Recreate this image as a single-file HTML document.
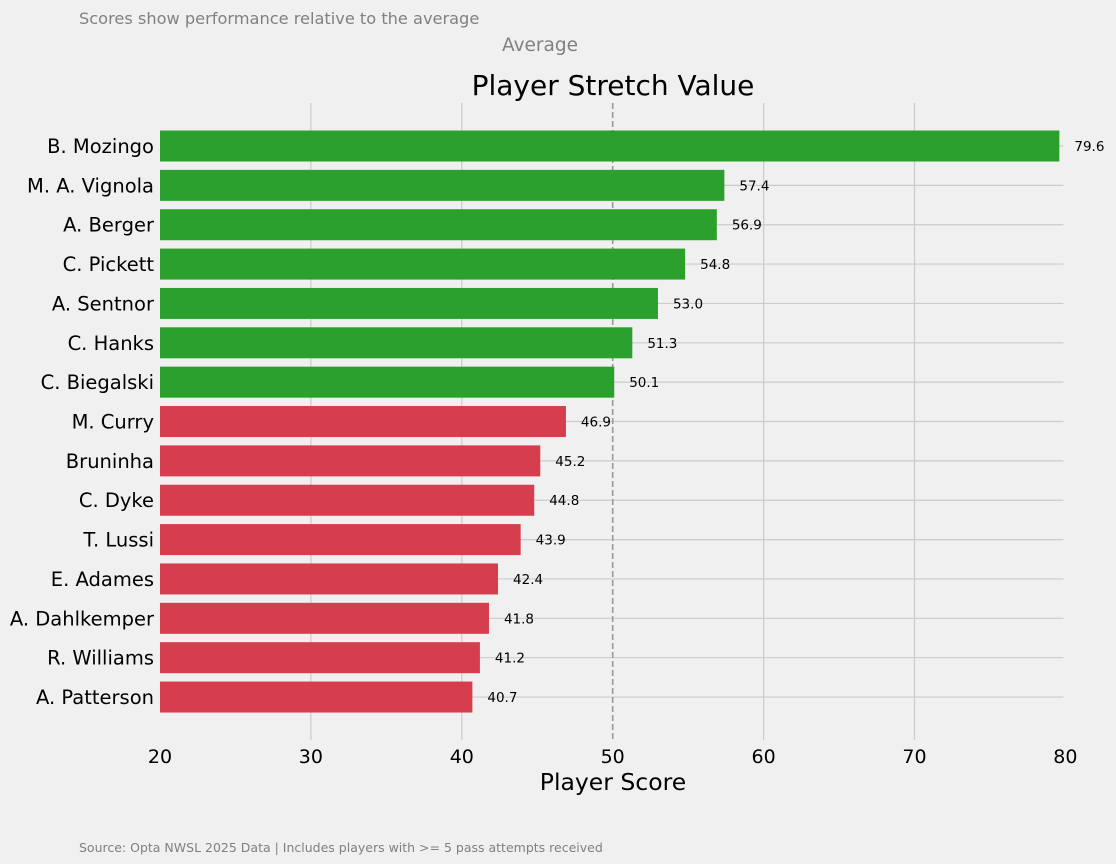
<!DOCTYPE html>
<html><head><meta charset="utf-8"><style>
body{margin:0;background:#f0f0f0;}
svg{display:block;font-family:"DejaVu Sans","Liberation Sans",sans-serif;}
</style></head><body>
<svg id="chart" width="1116" height="864">
<rect width="1116" height="864" fill="#f0f0f0"/>
<text x="79" y="24" font-size="16.2" fill="#808080">Scores show performance relative to the average</text>
<text x="540" y="51" font-size="18.5" fill="#808080" text-anchor="middle">Average</text>
<text x="613" y="95" font-size="28" fill="#000" text-anchor="middle">Player Stretch Value</text>
<text x="613" y="790" font-size="23.5" fill="#000" text-anchor="middle">Player Score</text>
<text x="79" y="852" font-size="12.5" fill="#808080">Source: Opta NWSL 2025 Data | Includes players with &gt;= 5 pass attempts received</text>
<g id="grid"></g><g id="bars"></g>
</svg>
<script>
const players=["B. Mozingo","M. A. Vignola","A. Berger","C. Pickett","A. Sentnor","C. Hanks","C. Biegalski","M. Curry","Bruninha","C. Dyke","T. Lussi","E. Adames","A. Dahlkemper","R. Williams","A. Patterson"];
const scores=[79.6,57.4,56.9,54.8,53.0,51.3,50.1,46.9,45.2,44.8,43.9,42.4,41.8,41.2,40.7];
const xTicks=[20,30,40,50,60,70,80];
const average=50;
const NS="http://www.w3.org/2000/svg";
const xs=v=>160+(v-20)*15.09;
const ys=i=>146+i*39.36;
const plotTop=103,plotBottom=740;
function mk(t,a,p){const e=document.createElementNS(NS,t);for(const k in a)e.setAttribute(k,a[k]);p.appendChild(e);return e;}
const g=document.getElementById('grid'),b=document.getElementById('bars');
xTicks.forEach(t=>{
 if(t!==20&&t!==80&&t!==average){const l=mk('line',{x1:xs(t),x2:xs(t),y1:plotTop,y2:plotBottom,stroke:'#cbcbcb','stroke-width':1.2},g);
 
 }
 const tx=mk('text',{x:xs(t),y:763,'font-size':19,'text-anchor':'middle',fill:'#000'},g);tx.textContent=t;
 
 
});
players.forEach((p,i)=>{
 const l=mk('line',{x1:xs(20),x2:xs(80)-2,y1:ys(i),y2:ys(i),stroke:'#cbcbcb','stroke-width':1.2},g);
 
 
});
const avg=mk('line',{x1:xs(average),x2:xs(average),y1:plotTop,y2:plotBottom,stroke:'#999','stroke-width':1.6,'stroke-dasharray':'6,3'},b);


players.forEach((p,i)=>{
 const v=scores[i];
 const r=mk('rect',{x:xs(20),y:ys(i)-15.5,width:xs(v)-xs(20),height:31,fill:v>=average?'#2ca02c':'#d63d4d'},b);
 
 
 const vl=mk('text',{x:xs(v)+15,y:ys(i)+5,'font-size':13.5,fill:'#000'},b);vl.textContent=v.toFixed(1);
 
 
 const nl=mk('text',{x:154,y:ys(i)+7,'font-size':19.5,'text-anchor':'end',fill:'#000'},b);nl.textContent=p;
 
 
});
</script>
</body></html>
